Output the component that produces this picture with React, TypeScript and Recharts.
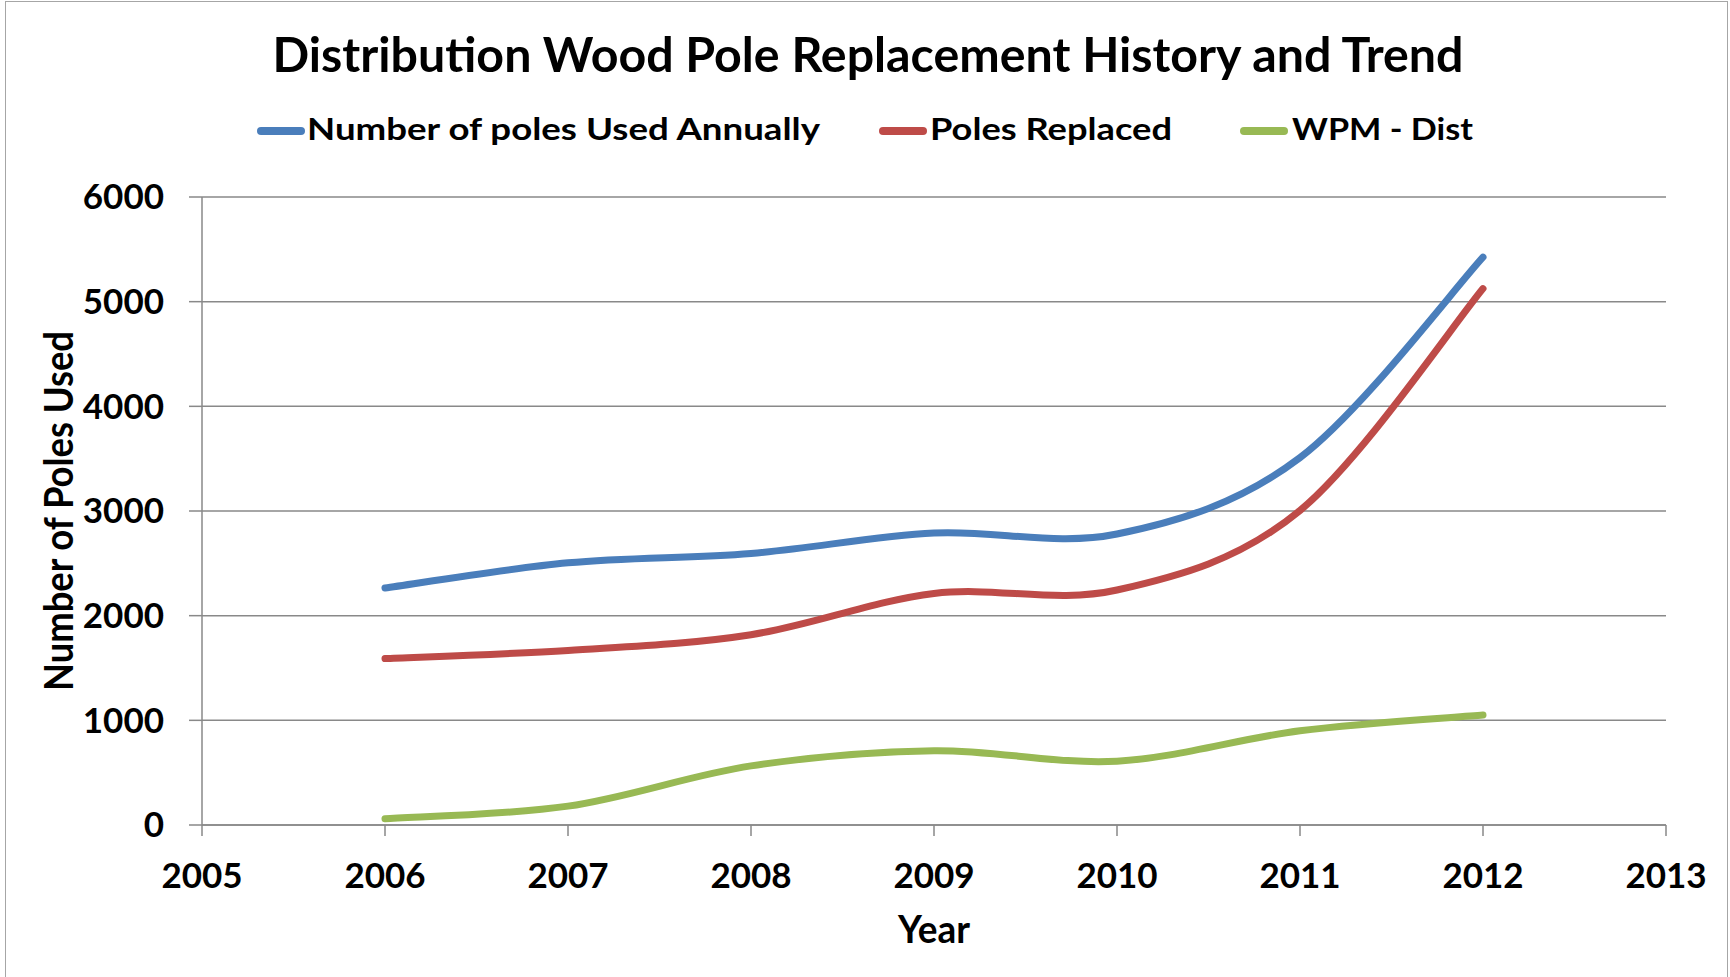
import React from 'react';
import { LineChart, Line, XAxis, YAxis, CartesianGrid, Legend } from 'recharts';

// ---------------------------------------------------------------------------
// Data
// ---------------------------------------------------------------------------

const years = [2006, 2007, 2008, 2009, 2010, 2011, 2012];
const polesUsedAnnually = [2265, 2505, 2595, 2790, 2780, 3510, 5425];
const polesReplaced = [1590, 1668, 1818, 2212, 2245, 3005, 5125];
const wpmDist = [60, 180, 565, 710, 610, 900, 1050];

const xTicks = [2005, 2006, 2007, 2008, 2009, 2010, 2011, 2012, 2013];
const yTicks = [0, 1000, 2000, 3000, 4000, 5000, 6000];

const SERIES = [
  { key: 'used', name: 'Number of poles Used Annually', color: '#4A7EBB' },
  { key: 'replaced', name: 'Poles Replaced', color: '#BE4B48' },
  { key: 'wpm', name: 'WPM - Dist', color: '#98B954' },
];

const data = years.map((year, i) => ({
  year,
  used: polesUsedAnnually[i],
  replaced: polesReplaced[i],
  wpm: wpmDist[i],
}));

const FONT = 'Lato, "Open Sans", sans-serif';
const GRID = '#898989';

// legend item placement (line start, text start, text width)
const LEGEND_LAYOUT = [
  { lineX: 257, textX: 307, textW: 513 },
  { lineX: 879, textX: 930, textW: 242 },
  { lineX: 1240, textX: 1292, textW: 181 },
];

// ---------------------------------------------------------------------------
// Excel-like smoothed line (Catmull-Rom as cubic beziers)
// ---------------------------------------------------------------------------

const smoothCurve = (context: any) => {
  let pts: [number, number][] = [];
  return {
    areaStart() {},
    areaEnd() {},
    lineStart() {
      pts = [];
    },
    point(x: number, y: number) {
      pts.push([x, y]);
    },
    lineEnd() {
      if (!pts.length) return;
      context.moveTo(pts[0][0], pts[0][1]);
      for (let i = 0; i < pts.length - 1; i++) {
        const p0 = pts[i - 1] || pts[i];
        const p1 = pts[i];
        const p2 = pts[i + 1];
        const p3 = pts[i + 2] || p2;
        context.bezierCurveTo(
          p1[0] + (p2[0] - p0[0]) / 6,
          p1[1] + (p2[1] - p0[1]) / 6,
          p2[0] - (p3[0] - p1[0]) / 6,
          p2[1] - (p3[1] - p1[1]) / 6,
          p2[0],
          p2[1],
        );
      }
    },
  };
};

// ---------------------------------------------------------------------------
// Sub-components
// ---------------------------------------------------------------------------

const renderLegend = (props: any) => {
  const payload = props.payload || [];
  return (
    <svg width={1730} height={50} style={{ display: 'block' }}>
      {payload.map((entry: any, i: number) => {
        const pos = LEGEND_LAYOUT[i];
        if (!pos) return null;
        return (
          <g key={entry.value}>
            <line
              x1={pos.lineX + 4}
              x2={pos.lineX + 44}
              y1={27}
              y2={27}
              stroke={entry.color}
              strokeWidth={8}
              strokeLinecap="round"
            />
            <text
              x={pos.textX}
              y={36}
              textLength={pos.textW}
              lengthAdjust="spacingAndGlyphs"
              fontFamily={FONT}
              fontWeight={700}
              fontSize={31}
              fill="#000"
            >
              {entry.value}
            </text>
          </g>
        );
      })}
    </svg>
  );
};

const YTitle = (props: any) => {
  const vb = props.viewBox || {};
  const cy = vb.y + vb.height / 2;
  return (
    <text
      x={73}
      y={cy}
      transform={`rotate(-90, 73, ${cy})`}
      textAnchor="middle"
      textLength={360}
      lengthAdjust="spacingAndGlyphs"
      fontFamily={FONT}
      fontWeight={700}
      fontSize={40}
      fill="#000"
    >
      Number of Poles Used
    </text>
  );
};

const XTitle = (props: any) => {
  const vb = props.viewBox || {};
  const cx = vb.x + vb.width / 2;
  return (
    <text
      x={cx}
      y={943}
      textAnchor="middle"
      textLength={72}
      lengthAdjust="spacingAndGlyphs"
      fontFamily={FONT}
      fontWeight={700}
      fontSize={39}
      fill="#000"
    >
      Year
    </text>
  );
};

// ---------------------------------------------------------------------------
// Main component
// ---------------------------------------------------------------------------

const App: React.FC = () => {
  const tickStyle = { fill: '#000', fontSize: 35, fontWeight: 700, fontFamily: FONT };

  return (
    <div
      style={{
        position: 'absolute',
        left: 0,
        top: 0,
        width: 1730,
        height: 977,
        background: '#fff',
      }}
    >
      {/* thin frame round the chart area */}
      <div
        style={{
          position: 'absolute',
          left: 5,
          top: 1,
          width: 1723,
          height: 980,
          border: '1.5px solid #a6a6a6',
          boxSizing: 'border-box',
        }}
      />
      <LineChart
        width={1730}
        height={977}
        data={data}
        margin={{ top: 197, right: 64, bottom: 0, left: 0 }}
      >
        <CartesianGrid vertical={false} stroke={GRID} strokeWidth={1.5} />
        <XAxis
          dataKey="year"
          type="number"
          domain={[2005, 2013]}
          ticks={xTicks}
          interval={0}
          height={152}
          tickSize={11}
          tickMargin={27}
          stroke={GRID}
          strokeWidth={1.5}
          tick={tickStyle}
          label={<XTitle />}
        />
        <YAxis
          type="number"
          domain={[0, 6000]}
          ticks={yTicks}
          interval={0}
          width={202}
          tickSize={13}
          tickMargin={25}
          stroke={GRID}
          strokeWidth={1.5}
          tick={tickStyle}
          label={<YTitle />}
        />
        <Legend
          layout="horizontal"
          verticalAlign="middle"
          align="center"
          content={renderLegend}
          wrapperStyle={{ top: 104, left: 0, width: 1730, height: 50 }}
        />
        {SERIES.map(s => (
          <Line
            key={s.key}
            dataKey={s.key}
            name={s.name}
            type={smoothCurve as any}
            stroke={s.color}
            strokeWidth={7}
            strokeLinecap="round"
            dot={false}
            activeDot={false}
            isAnimationActive={false}
          />
        ))}
      </LineChart>

      {/* title */}
      <svg
        width={1730}
        height={100}
        style={{ position: 'absolute', left: 0, top: 0, pointerEvents: 'none' }}
      >
        <text
          x={868}
          y={72}
          textAnchor="middle"
          textLength={1191}
          lengthAdjust="spacingAndGlyphs"
          fontFamily={FONT}
          fontWeight={700}
          fontSize={48}
          fill="#000"
        >
          Distribution Wood Pole Replacement History and Trend
        </text>
      </svg>
    </div>
  );
};

export default App;
